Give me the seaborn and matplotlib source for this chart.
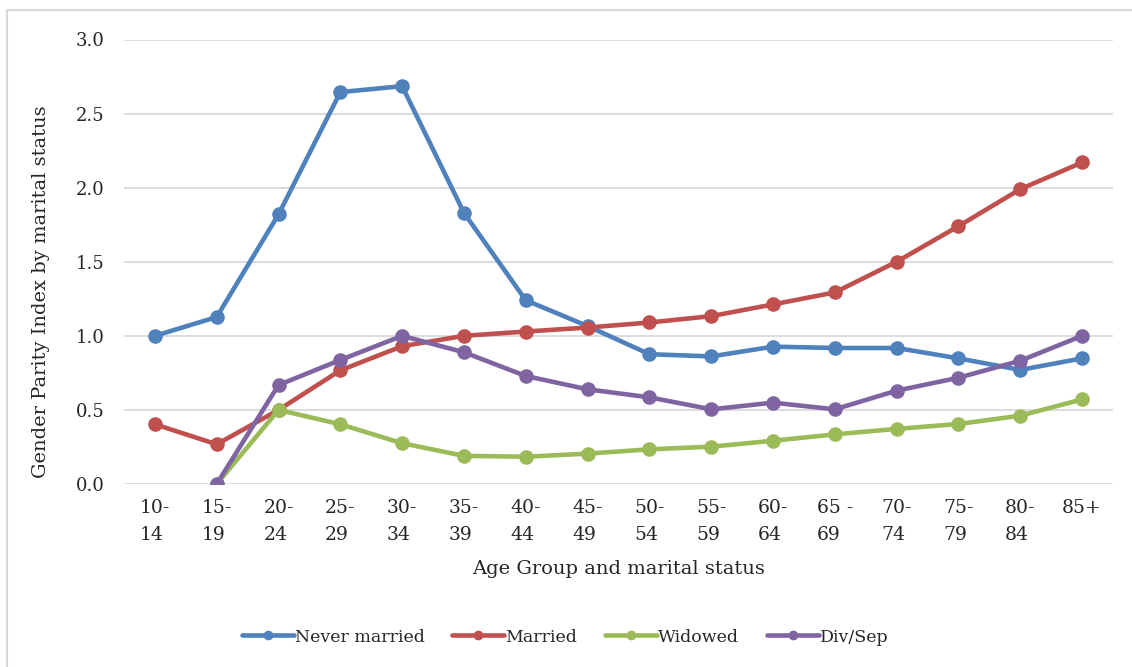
import numpy as np
import pandas as pd
import seaborn as sns
from matplotlib import pyplot as plt
from matplotlib.lines import Line2D
from matplotlib.patches import Rectangle

sns.set_theme(style="white")
plt.rcParams["font.family"] = ["DejaVu Serif"]

age_groups = ["10-\n14", "15-\n19", "20-\n24", "25-\n29", "30-\n34", "35-\n39",
              "40-\n44", "45-\n49", "50-\n54", "55-\n59", "60-\n64", "65 -\n69",
              "70-\n74", "75-\n79", "80-\n84", "85+"]
never_married = [1.0, 1.127, 1.82, 2.645, 2.685, 1.83, 1.24, 1.066, 0.876, 0.861,
                 0.927, 0.918, 0.918, 0.848, 0.77, 0.848]
married = [0.403, 0.268, 0.5, 0.767, 0.93, 1.0, 1.029, 1.056, 1.09, 1.133,
           1.212, 1.293, 1.5, 1.74, 1.99, 2.17]
widowed = [np.nan, 0.0, 0.5, 0.403, 0.275, 0.19, 0.184, 0.205, 0.234, 0.252,
           0.292, 0.335, 0.372, 0.405, 0.461, 0.571]
div_sep = [np.nan, 0.0, 0.668, 0.837, 1.0, 0.889, 0.729, 0.639, 0.585, 0.504,
           0.549, 0.504, 0.63, 0.717, 0.832, 1.0]

series = {"Never married": never_married, "Married": married,
          "Widowed": widowed, "Div/Sep": div_sep}
colors = {"Never married": "#4F81BD", "Married": "#C0504D",
          "Widowed": "#9BBB59", "Div/Sep": "#8064A2"}

rows = []
for name, vals in series.items():
    for i, v in enumerate(vals):
        if not np.isnan(v):
            rows.append({"pos": i, "value": v, "status": name})
df = pd.DataFrame(rows)

fig = plt.figure(figsize=(11.32, 6.67), dpi=100)
ax = fig.add_axes([124 / 1132, 1 - 484 / 667, (1113 - 124) / 1132, (484 - 39.5) / 667])

# outer chart frame (cropped on right/bottom)
fig.patches.append(Rectangle((7 / 1132, -0.1), 1.2, (667 - 10) / 667 + 0.1,
                             transform=fig.transFigure, fill=False,
                             edgecolor="#D9D9D9", linewidth=1.5))

sns.lineplot(data=df, x="pos", y="value", hue="status", palette=colors,
             marker="o", markersize=10.5, markeredgewidth=0, linewidth=3.3,
             legend=False, ax=ax, zorder=3)

ax.set_xlim(-0.5, len(age_groups) - 0.5)
ax.set_ylim(0, 3.0)
ax.set_yticks(np.arange(0, 3.01, 0.5))
ax.set_yticklabels([f"{t:.1f}" for t in np.arange(0, 3.01, 0.5)], fontsize=13)
ax.set_xticks(range(len(age_groups)))
ax.set_xticklabels(age_groups, fontsize=13.5, va="top", ha="center",
                   multialignment="left", linespacing=1.6)
ax.tick_params(axis="y", length=0, pad=14)
ax.tick_params(axis="x", length=0, pad=11)
ax.grid(axis="y", color="#D9D9D9", linewidth=1.3)
ax.set_axisbelow(True)
for s in ax.spines.values():
    s.set_visible(False)

ax.set_xlabel("Age Group and marital status", fontsize=14, labelpad=12)
ax.set_ylabel("Gender Parity Index by marital status", fontsize=14)
ax.yaxis.set_label_coords((50 - 124) / 989, (484 - 292) / 444.5)

handles = [Line2D([], [], color=colors[n], marker="o", markersize=7,
                  markeredgewidth=0, linewidth=3.3) for n in series]
fig.legend(handles, list(series.keys()), loc="center", ncol=4,
           bbox_to_anchor=(565 / 1132, 1 - 637 / 667), frameon=False,
           fontsize=12.5, handlelength=3.0, handletextpad=0.05,
           columnspacing=1.6)

fig.savefig("out.png", dpi=100)
